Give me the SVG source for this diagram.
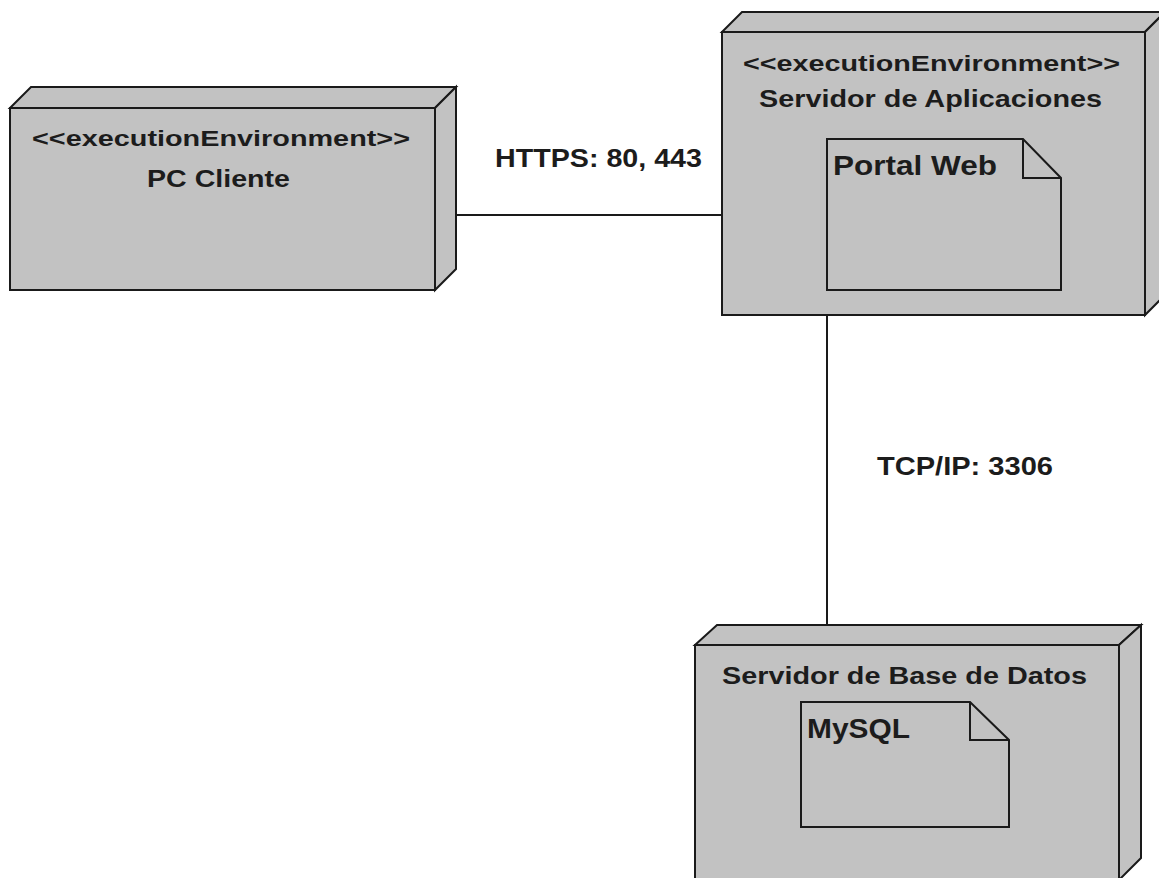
<svg xmlns="http://www.w3.org/2000/svg" width="1159" height="878" viewBox="0 0 1159 878">
<style>
.face{fill:#c2c2c2;stroke:#1a1a1a;stroke-width:2;stroke-linejoin:miter}
.art{fill:#c2c2c2;stroke:#1a1a1a;stroke-width:2}
.conn{stroke:#1a1a1a;stroke-width:2;fill:none}
text{font-family:"Liberation Sans",Arial,sans-serif;font-weight:bold;fill:#1c1c1c}
.st{font-size:22px}
.nm{font-size:23px}
.ar{font-size:28px}
.lb{font-size:25px}
</style>
<rect x="0" y="0" width="1159" height="878" fill="#ffffff"/>
<g id="connectors">
<line class="conn" x1="435" y1="215" x2="722" y2="215"/>
<line class="conn" x1="827" y1="315" x2="827" y2="625"/>
<text class="lb" x="495" y="167" textLength="207" lengthAdjust="spacingAndGlyphs">HTTPS: 80, 443</text>
<text class="lb" x="877" y="475" textLength="176" lengthAdjust="spacingAndGlyphs">TCP/IP: 3306</text>
</g>
<g id="pc-cliente">
<polygon class="face" points="10,108 31,87 456,87 435,108"/>
<polygon class="face" points="435,108 456,87 456,269 435,290"/>
<rect class="face" x="10" y="108" width="425" height="182"/>
<text class="st" x="32" y="146" textLength="378" lengthAdjust="spacingAndGlyphs">&lt;&lt;executionEnvironment&gt;&gt;</text>
<text class="nm" x="147" y="187" textLength="143" lengthAdjust="spacingAndGlyphs">PC Cliente</text>
</g>
<g id="servidor-aplicaciones">
<polygon class="face" points="722,32 742,12 1165,12 1145,32"/>
<polygon class="face" points="1145,32 1165,12 1165,295 1145,315"/>
<rect class="face" x="722" y="32" width="423" height="283"/>
<text class="st" x="743" y="71" textLength="377" lengthAdjust="spacingAndGlyphs">&lt;&lt;executionEnvironment&gt;&gt;</text>
<text class="nm" x="759" y="107" textLength="343" lengthAdjust="spacingAndGlyphs">Servidor de Aplicaciones</text>
</g>
<g id="portal-web">
<polygon class="art" points="827,139 1023,139 1061,178 1061,290 827,290"/>
<polyline class="conn" points="1023,139 1023,178 1061,178"/>
<text class="ar" x="833" y="175" textLength="164" lengthAdjust="spacingAndGlyphs">Portal Web</text>
</g>
<g id="servidor-base-datos">
<polygon class="face" points="695,645 717,625 1141,625 1119,645"/>
<polygon class="face" points="1119,645 1141,625 1141,858 1119,880"/>
<rect class="face" x="695" y="645" width="424" height="240"/>
<text class="nm" x="722" y="684" textLength="365" lengthAdjust="spacingAndGlyphs">Servidor de Base de Datos</text>
</g>
<g id="mysql">
<polygon class="art" points="801,702 970,702 1009,740 1009,827 801,827"/>
<polyline class="conn" points="970,702 970,740 1009,740"/>
<text class="ar" x="807" y="738" textLength="103" lengthAdjust="spacingAndGlyphs">MySQL</text>
</g>
</svg>
